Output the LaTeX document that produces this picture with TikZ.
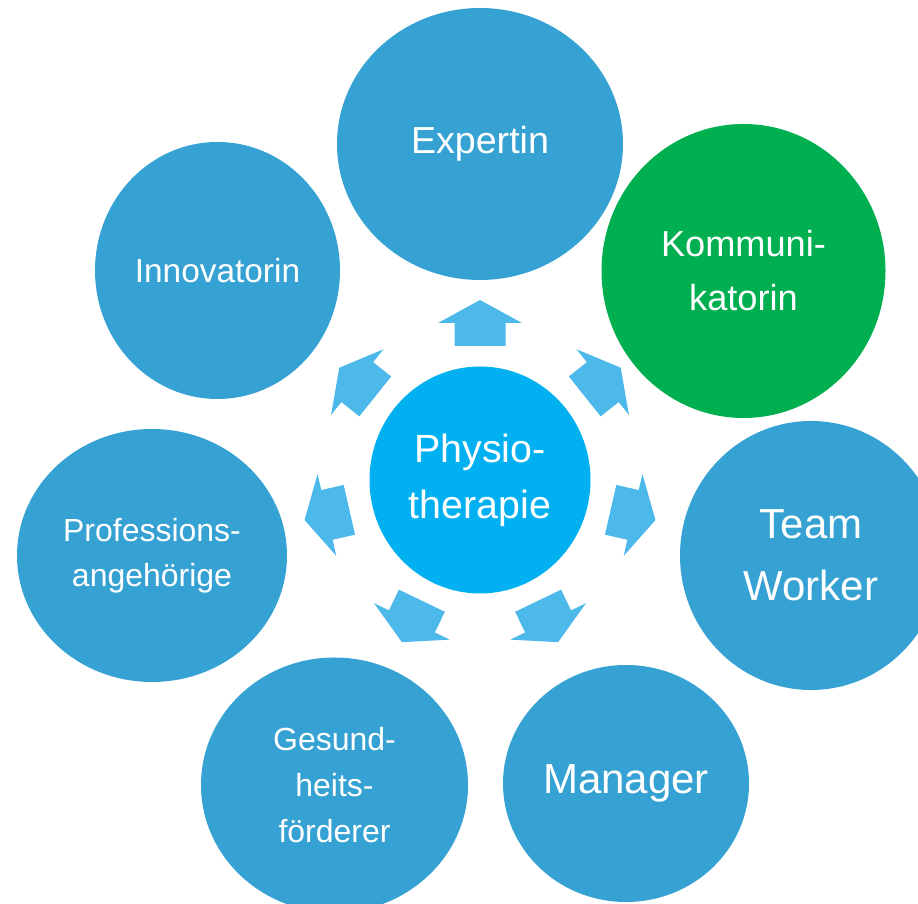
\documentclass[tikz,border=0pt]{standalone}
\usepackage{fontspec}
\setmainfont{Liberation Sans}
\usetikzlibrary{shapes.geometric}
\definecolor{roleblue}{HTML}{36A2D3}
\definecolor{coreblue}{HTML}{00B0F0}
\definecolor{arrowblue}{HTML}{4DB9EA}
\definecolor{rolegreen}{HTML}{00B050}
\begin{document}
\begin{tikzpicture}[role node/.style={ellipse,fill=roleblue,text=white,inner sep=0pt,align=center},core node/.style={ellipse,fill=coreblue,text=white,inner sep=0pt,align=center},out arrow/.style={fill=arrowblue}]
        \useasboundingbox (0,0) rectangle (9.18,9.04);
        \clip (0,0) rectangle (9.18,9.04);

        \node[core node, minimum width=2.21cm, minimum height=2.27cm, font=\fontsize{11.2}{15.9}\selectfont] at (4.80, 4.24) (physio) {Physio-\\therapie};

        \node[role node, minimum width=2.86cm, minimum height=2.72cm, font=\fontsize{10.7}{15}\selectfont] at (4.80, 7.60) (expertin) {Expertin};
        \node[role node, fill=rolegreen, minimum width=2.84cm, minimum height=2.94cm, font=\fontsize{10.3}{15.4}\selectfont] at (7.435, 6.33) (kommunikatorin) {Kommuni-\\katorin};
        \node[role node, minimum width=2.62cm, minimum height=2.69cm, font=\fontsize{11.95}{17.6}\selectfont] at (8.11, 3.485) (teamworker) {Team\\Worker};
        \node[role node, minimum width=2.46cm, minimum height=2.37cm, font=\fontsize{11.95}{17}\selectfont] at (6.26, 1.205) (manager) {Manager};
        \node[role node, minimum width=2.67cm, minimum height=2.55cm, font=\fontsize{9.1}{13.2}\selectfont] at (3.345, 1.19) (gesund) {Gesund-\\heits-\\förderer};
        \node[role node, minimum width=2.70cm, minimum height=2.53cm, font=\fontsize{9.1}{12.8}\selectfont] at (1.52, 3.485) (profession) {Professions-\\angehörige};
        \node[role node, minimum width=2.45cm, minimum height=2.57cm, font=\fontsize{9.5}{13}\selectfont] at (2.175, 6.335) (innovatorin) {Innovatorin};

        % block arrows from the centre outwards
        \foreach \ang in {90,38.57,-12.86,-64.29,-115.71,-167.14,141.43}
            \fill[out arrow, shift={(physio.center)}, rotate=\ang]
                (1.34,-0.255) -- (1.57,-0.255) -- (1.57,-0.42) -- (1.80,0)
                -- (1.57,0.42) -- (1.57,0.255) -- (1.34,0.255) -- cycle;
\end{tikzpicture}
\end{document}
